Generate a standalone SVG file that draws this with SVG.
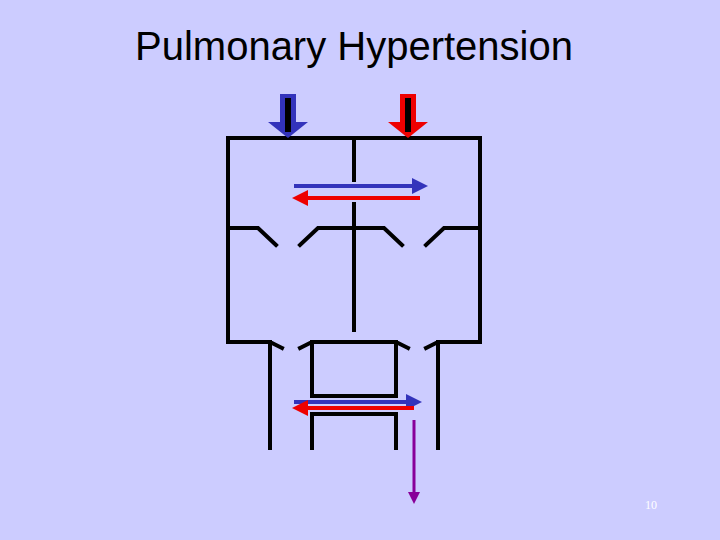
<svg xmlns="http://www.w3.org/2000/svg" width="720" height="540" viewBox="0 0 720 540">
<style>.w{fill:none;stroke:#000;stroke-width:4;stroke-linecap:square}</style>
<defs>
<marker id="mb" markerWidth="4" markerHeight="4" refX="2" refY="2" orient="auto"><path d="M0,0L4,2L0,4z" fill="#3333bb"/></marker>
<marker id="mr" markerWidth="4" markerHeight="4" refX="2" refY="2" orient="auto"><path d="M0,0L4,2L0,4z" fill="#ee0000"/></marker>
<marker id="mp" markerWidth="4" markerHeight="4" refX="2" refY="2" orient="auto"><path d="M0,0L4,2L0,4z" fill="#880099"/></marker>
</defs>
<rect width="720" height="540" fill="#ccccff"/>
<text x="354" y="60" text-anchor="middle" font-family="Liberation Sans, Arial, sans-serif" font-size="40">Pulmonary Hypertension</text>
<text x="651" y="509" text-anchor="middle" font-family="Liberation Serif, serif" font-size="12" fill="#fff">10</text>
<g id="vessels">
<path class="w" d="M228,342V138H480V342M354,138V180M354,204V330M228,228H258L276,245M300,245L318,228H384L402,245M426,245L444,228H480"/>
<path class="w" d="M228,342H270L282,348M270,342V448M300,348L312,342H396L408,348M426,348L438,342H480M438,342V448M312,342V396H396V342M312,448V414H396V448"/>
</g>
<g id="inflow">
<path d="M280,94h16v28h12l-20,16l-20,-16h12z" fill="#3333bb"/><rect x="285" y="98" width="6" height="34" fill="#000"/>
<path d="M400,94h16v28h12l-20,16l-20,-16h12z" fill="#ee0000"/><rect x="405" y="98" width="6" height="34" fill="#000"/>
</g>
<g id="connectors">
<line x1="294" y1="186" x2="420" y2="186" stroke="#3333bb" stroke-width="4" marker-end="url(#mb)"/>
<line x1="420" y1="198" x2="300" y2="198" stroke="#ee0000" stroke-width="4" marker-end="url(#mr)"/>
<line x1="294" y1="402" x2="414" y2="402" stroke="#3333bb" stroke-width="4" marker-end="url(#mb)"/>
<line x1="414" y1="408" x2="300" y2="408" stroke="#ee0000" stroke-width="4" marker-end="url(#mr)"/>
<line x1="414" y1="420" x2="414" y2="498" stroke="#880099" stroke-width="3" marker-end="url(#mp)"/>
</g>
</svg>
